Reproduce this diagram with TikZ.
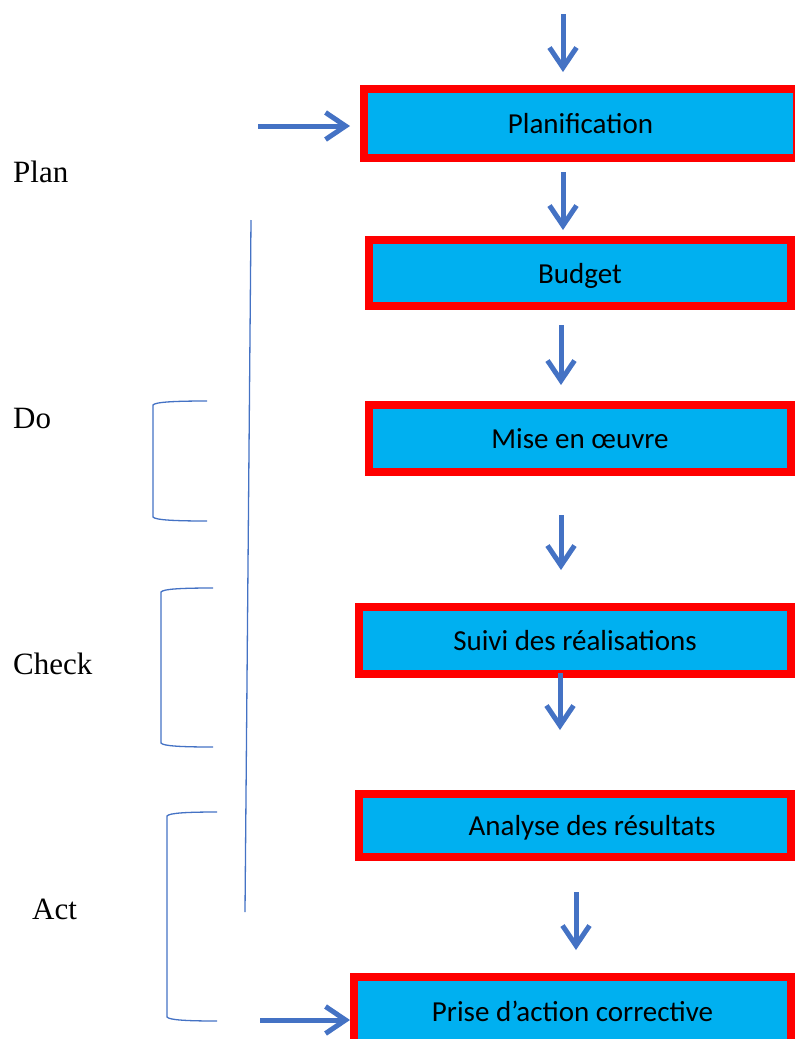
\documentclass[tikz,border=0pt]{standalone}
\usepackage{fontspec}
\setmainfont{Liberation Serif}
\newfontfamily\boxfont{Carlito}
\usetikzlibrary{arrows.meta}
\definecolor{boxblue}{HTML}{00B0F0}
\definecolor{boxred}{HTML}{FF0000}
\definecolor{arrowblue}{HTML}{4472C4}
\tikzset{
  stepbox/.style={draw=boxred, fill=boxblue, line width=8bp, rectangle, inner sep=0pt,
    font=\boxfont\fontsize{29bp}{34bp}\selectfont, text height=20bp, text depth=0bp},
  flowarrow/.style={draw=arrowblue, line width=5bp, -{Straight Barb[length=20bp, width=27bp]}},
  thinline/.style={draw=arrowblue, line width=1.3bp},
  pdcalabel/.style={anchor=base west, inner sep=0pt, font=\fontsize{31bp}{36bp}\selectfont}
}
\begin{document}
\begin{tikzpicture}[x=1bp, y=-1bp]
\useasboundingbox (0,0) rectangle (795,1039);

% boxes
\node[stepbox, minimum width=433bp, minimum height=69bp] (plan) at (580.5,123.5) {Planification};
\node[stepbox, minimum width=422bp, minimum height=66bp] (budget) at (580,273) {Budget};
\node[stepbox, minimum width=422bp, minimum height=67bp] (mise) at (580,438.5) {Mise en œuvre};
\node[stepbox, minimum width=432bp, minimum height=67bp] (suivi) at (575,640.5) {Suivi des réalisations};
\node[stepbox, minimum width=432bp, minimum height=63bp] (analyse) at (575,825.5) {\hspace*{34bp}Analyse des résultats};
\node[stepbox, minimum width=437bp, minimum height=68bp] (prise) at (572.5,1011) {Prise d’action corrective};

% labels
\node[pdcalabel] (lplan) at (13,182) {Plan};
\node[pdcalabel] (ldo) at (13,428) {Do};
\node[pdcalabel] (lcheck) at (13,674) {Check};
\node[pdcalabel] (lact) at (32,919) {Act};

% arrow end points
\coordinate (a0s) at (563,14);  \coordinate (a0e) at (563,72);
\coordinate (a1s) at (563,172); \coordinate (a1e) at (563,230);
\coordinate (a2s) at (561,325); \coordinate (a2e) at (561,385);
\coordinate (a3s) at (561,515); \coordinate (a3e) at (561,570);
\coordinate (a4s) at (560,673); \coordinate (a4e) at (560,730);
\coordinate (a5s) at (576,892); \coordinate (a5e) at (576,950);
\coordinate (l1s) at (258,126); \coordinate (l1e) at (350,126);
\coordinate (l2s) at (260,1020); \coordinate (l2e) at (350,1020);

\draw[flowarrow] (a0s) -- (a0e);
\draw[flowarrow] (a1s) -- (a1e);
\draw[flowarrow] (a2s) -- (a2e);
\draw[flowarrow] (a3s) -- (a3e);
\draw[flowarrow] (a4s) -- (a4e);
\draw[flowarrow] (a5s) -- (a5e);
\draw[flowarrow] (l1s) -- (l1e);
\draw[flowarrow] (l2s) -- (l2e);

% long thin line
\coordinate (vt) at (251,220);
\coordinate (vb) at (245,912);
\draw[thinline] (vt) -- (vb);

% brackets
\draw[thinline] (207,401) .. controls (175,401) and (155,402) .. (153,405) -- (153,517) .. controls (155,520) and (175,521) .. (207,521);
\draw[thinline] (213,588) .. controls (181,588) and (163,589) .. (161,592) -- (161,743) .. controls (163,746) and (181,747) .. (213,747);
\draw[thinline] (217,812) .. controls (187,812) and (169,813) .. (167,816) -- (167,1017) .. controls (169,1020) and (187,1021) .. (217,1021);
\end{tikzpicture}
\end{document}
